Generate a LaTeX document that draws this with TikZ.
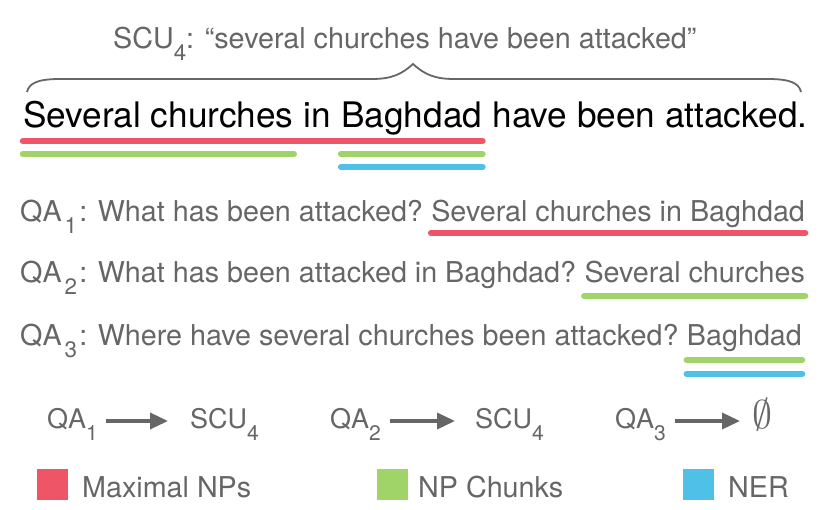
\documentclass[tikz,border=0pt]{standalone}
\usepackage{fontspec}
\setmainfont{TeX Gyre Heros}
\usetikzlibrary{arrows.meta,positioning}

\definecolor{txtgray}{HTML}{666666}
\definecolor{npred}{HTML}{EE5566}
\definecolor{chunkgreen}{HTML}{A0D468}
\definecolor{nerblue}{HTML}{4FC1E9}

\newcommand{\lowsub}[1]{\raisebox{-0.45em}{\scalebox{0.78}{#1}}}
\newcommand{\qasub}[1]{\kern0.1em\lowsub{#1}\kern0.08em}
\newcommand{\bigfont}{\fontsize{35.2}{40}\selectfont}
\newcommand{\qafont}{\fontsize{28.7}{33}\selectfont}
\newcommand{\rowfont}{\fontsize{27}{31}\selectfont}

\tikzset{
  word/.style={anchor=base west,inner sep=0pt,font=\bigfont},
  qa/.style={anchor=base west,inner sep=0pt,text=txtgray,font=\qafont},
  rowtext/.style={anchor=base west,inner sep=0pt,text=txtgray,font=\rowfont},
  bar/.style={line width=6.5pt,line cap=round},
  brace/.style={draw=txtgray,line width=1.8pt},
  flow/.style={draw=txtgray,line width=3.5pt,-{Triangle[length=18pt,width=16pt]}},
  swatch/.style={minimum size=31pt,inner sep=0pt}
}

\begin{document}
\begin{tikzpicture}[x=1pt,y=-1pt]
\useasboundingbox (0,0) rectangle (830,509);

\node[qa] (scu) at (113,48) {SCU\lowsub{4}: “several churches have been attacked”};
\draw[brace] (27,92) .. controls (29,83) and (38,79) .. (60,79) -- (372,79)
  .. controls (392,79) and (402,74) .. (413,64)
  .. controls (424,74) and (434,79) .. (454,79) -- (768,79)
  .. controls (790,79) and (799,83) .. (801,92);

\node[word] (w1) at (23,127) {Several churches};
\node[word,base right=9.8pt of w1] (w2) {in};
\node[word,base right=9.8pt of w2] (w3) {Baghdad};
\node[word,base right=9.8pt of w3] (w4) {have been attacked.};

\draw[bar,draw=npred] ([yshift=-14pt]w1.base west) -- ([yshift=-14pt]w3.base east);
\draw[bar,draw=chunkgreen] ([yshift=-27pt]w1.base west) -- ([yshift=-27pt]w1.base east);
\draw[bar,draw=chunkgreen] ([yshift=-27pt]w3.base west) -- ([yshift=-27pt]w3.base east);
\draw[bar,draw=nerblue] ([yshift=-40pt]w3.base west) -- ([yshift=-40pt]w3.base east);

\node[qa] (q1) at (20,221) {QA\qasub{1}: What has been attacked?};
\node[qa,base right=8pt of q1] (a1) {Several churches in Baghdad};
\draw[bar,draw=npred] ([yshift=-12pt]a1.base west) -- ([yshift=-12pt]a1.base east);

\node[qa] (q2) at (20,282) {QA\qasub{2}: What has been attacked in Baghdad?};
\node[qa,base right=8pt of q2] (a2) {Several churches};
\draw[bar,draw=chunkgreen] ([yshift=-14pt]a2.base west) -- ([yshift=-14pt]a2.base east);

\node[qa] (q3) at (20,345) {QA\qasub{3}: Where have several churches been attacked?};
\node[qa,base right=8pt of q3] (a3) {Baghdad};
\draw[bar,draw=chunkgreen] ([yshift=-15pt]a3.base west) -- ([yshift=-15pt]a3.base east);
\draw[bar,draw=nerblue] ([yshift=-29pt]a3.base west) -- ([yshift=-29pt]a3.base east);

\node[rowtext] (m1) at (47,428) {QA\lowsub{1}};
\node[rowtext] (t1) at (190,428) {SCU\lowsub{4}};
\node[rowtext] (m2) at (330,428) {QA\lowsub{2}};
\node[rowtext] (t2) at (475,428) {SCU\lowsub{4}};
\node[rowtext] (m3) at (615,428) {QA\lowsub{3}};
\node[rowtext] (t3) at (752,428) {\resizebox{!}{30pt}{$\emptyset$}};
\draw[flow] ([xshift=8pt,yshift=7pt]m1.base east) -- ([xshift=-22pt,yshift=7pt]t1.base west);
\draw[flow] ([xshift=9pt,yshift=7pt]m2.base east) -- ([xshift=-20pt,yshift=7pt]t2.base west);
\draw[flow] ([xshift=9pt,yshift=7pt]m3.base east) -- ([xshift=-12pt,yshift=7pt]t3.base west);

\node[swatch,fill=npred] (k1) at (52.5,484.5) {};
\node[qa] (k1t) at (82,497) {Maximal NPs};
\node[swatch,fill=chunkgreen] (k2) at (392.5,484.5) {};
\node[qa] (k2t) at (418,497) {NP Chunks};
\node[swatch,fill=nerblue] (k3) at (698.5,484.5) {};
\node[qa] (k3t) at (728,497) {NER};
\end{tikzpicture}
\end{document}
